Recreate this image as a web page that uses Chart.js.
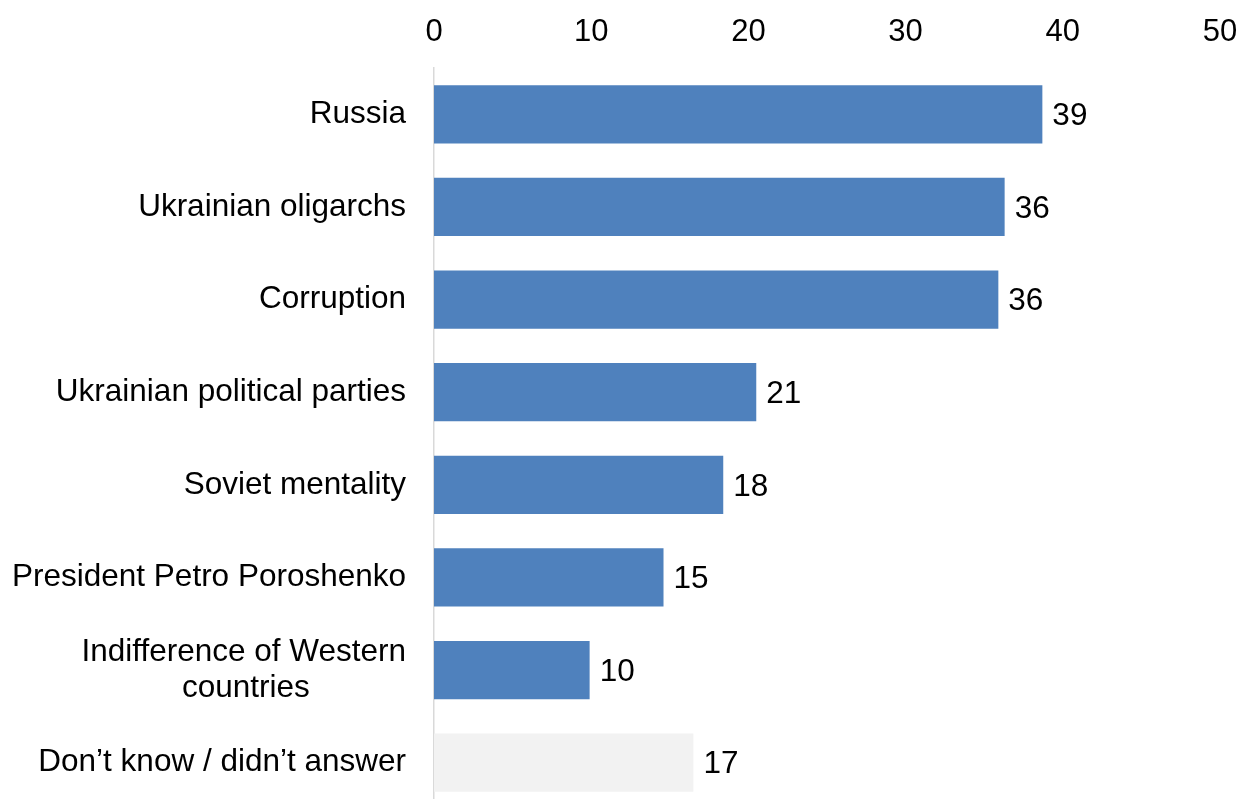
<!DOCTYPE html>
<html>
<head>
<meta charset="utf-8">
<script src="https://cdn.jsdelivr.net/npm/chart.js@4"></script>
<style>
  html, body { margin: 0; padding: 0; background: #ffffff; overflow: hidden; }
  #wrap { position: relative; width: 1252px; height: 809px; }
</style>
</head>
<body>
<div id="wrap"><canvas id="chart"></canvas></div>
<script>
const categories = [
  "Russia",
  "Ukrainian oligarchs",
  "Corruption",
  "Ukrainian political parties",
  "Soviet mentality",
  "President Petro Poroshenko",
  ["Indifference of Western", "countries"],
  "Don\u2019t know / didn\u2019t answer",
];
const values = [38.7, 36.3, 35.9, 20.5, 18.4, 14.6, 9.9, 16.5];
const valueLabels = ["39", "36", "36", "21", "18", "15", "10", "17"];
const barColors = [
  "#4f81bd", "#4f81bd", "#4f81bd", "#4f81bd",
  "#4f81bd", "#4f81bd", "#4f81bd", "#f2f2f2",
];
const xTicks = [0, 10, 20, 30, 40, 50];

const fontFamily = "'Liberation Sans', Arial, sans-serif";
const labelFont = "31.5px " + fontFamily;

// wrapped labels are centred line by line, so pad the short lines with spaces
const measureCtx = document.createElement("canvas").getContext("2d");
measureCtx.font = labelFont;
const centreLines = (lines) => {
  if (!Array.isArray(lines)) return lines;
  const widest = Math.max(...lines.map((l) => measureCtx.measureText(l).width));
  const space = measureCtx.measureText(" ").width;
  return lines.map((l) => {
    const n = Math.round((widest - measureCtx.measureText(l).width) / 2 / space);
    return l + " ".repeat(n);
  });
};

// draws the number just right of each bar
const barValueLabels = {
  id: "barValueLabels",
  afterDatasetsDraw(chart) {
    const ctx = chart.ctx;
    const meta = chart.getDatasetMeta(0);
    ctx.save();
    ctx.font = labelFont;
    ctx.fillStyle = "#000000";
    ctx.textAlign = "left";
    ctx.textBaseline = "middle";
    meta.data.forEach((bar, i) => {
      ctx.fillText(valueLabels[i], bar.x + 10, bar.y + 2);
    });
    ctx.restore();
  },
};

new Chart(document.getElementById("chart"), {
  type: "bar",
  plugins: [barValueLabels],
  data: {
    labels: categories,
    datasets: [
      {
        data: values,
        backgroundColor: barColors,
        borderWidth: 0,
        barPercentage: 0.63,
        categoryPercentage: 1,
      },
    ],
  },
  options: {
    indexAxis: "y",
    responsive: true,
    maintainAspectRatio: false,
    animation: false,
    layout: { padding: { left: 0, right: 32, top: 0, bottom: 0 } },
    plugins: {
      legend: { display: false },
      tooltip: { enabled: false },
    },
    scales: {
      x: {
        position: "top",
        min: 0,
        max: 50,
        afterBuildTicks: (scale) => {
          scale.ticks = xTicks.map((v) => ({ value: v }));
        },
        afterFit: (scale) => {
          scale.height = 68;
          scale.paddingLeft = 0;
          scale.paddingRight = 0;
        },
        grid: { display: false, drawTicks: false },
        border: { display: false },
        ticks: {
          color: "#000000",
          padding: 17,
          font: { family: fontFamily, size: 31 },
        },
      },
      y: {
        afterFit: (scale) => {
          scale.width = 434;
          scale.paddingTop = 0;
          scale.paddingBottom = 0;
        },
        grid: { display: false, drawTicks: false },
        border: { display: true, color: "#d9d9d9", width: 1.5 },
        ticks: {
          color: "#000000",
          padding: 28,
          font: { family: fontFamily, size: 31.5, lineHeight: 1.14 },
          callback: (value, index) => centreLines(categories[index]),
        },
      },
    },
  },
});
</script>
</body>
</html>
